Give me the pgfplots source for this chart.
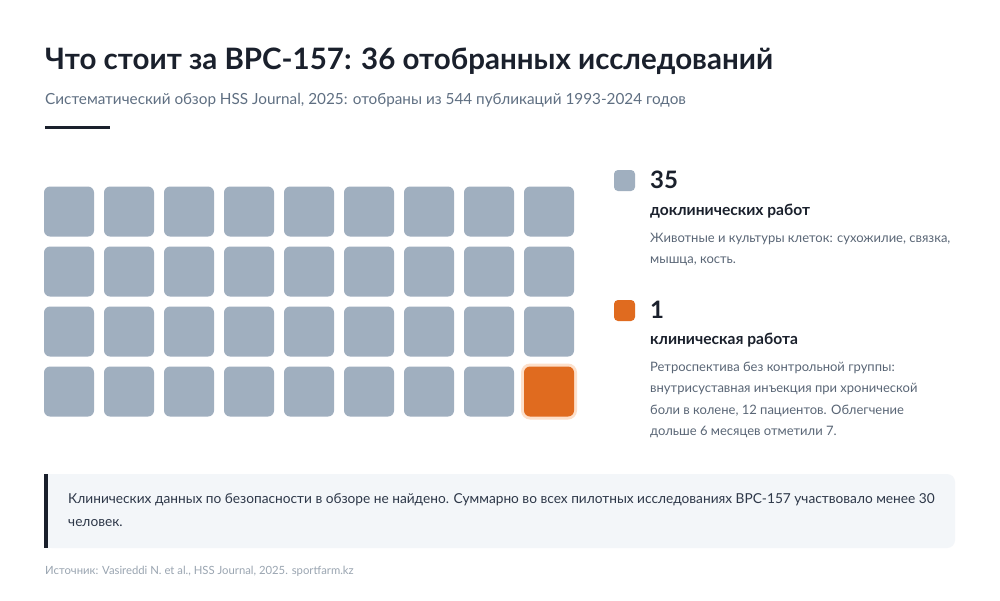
\documentclass[border=0pt]{standalone}
\usepackage{pgfplots}
\pgfplotsset{compat=1.18}
\usepackage{fontspec}
\setmainfont{Lato}

\definecolor{ink}{HTML}{1A202C}
\definecolor{subgrey}{HTML}{5F6F82}
\definecolor{descgrey}{HTML}{5A6676}
\definecolor{srcgrey}{HTML}{9AA5B1}
\definecolor{cellgrey}{HTML}{A0AFBF}
\definecolor{cellorange}{HTML}{E06B1F}
\definecolor{halo}{HTML}{FDE0CB}
\definecolor{notebg}{HTML}{F3F6F9}
\definecolor{notetext}{HTML}{2D3748}

% rounded square marks, sizes in pt (1pt = 1px of the reference)
\newcommand\roundsq[2]{% half size, radius
  \pgfpathmoveto{\pgfpoint{-#1+#2}{-#1}}%
  \pgfpathlineto{\pgfpoint{#1-#2}{-#1}}%
  \pgfpatharc{270}{360}{#2}%
  \pgfpathlineto{\pgfpoint{#1}{#1-#2}}%
  \pgfpatharc{0}{90}{#2}%
  \pgfpathlineto{\pgfpoint{-#1+#2}{#1}}%
  \pgfpatharc{90}{180}{#2}%
  \pgfpathlineto{\pgfpoint{-#1}{-#1+#2}}%
  \pgfpatharc{180}{270}{#2}%
  \pgfpathclose}
\pgfdeclareplotmark{cell}{\roundsq{25pt}{6pt}\pgfusepathqfill}
\pgfdeclareplotmark{cellhalo}{\roundsq{28pt}{9pt}\pgfusepathqfill}

\tikzset{txt/.style={anchor=base west, inner sep=0}}

\begin{document}
\begin{tikzpicture}[x=1pt,y=1pt]
  \fill[white] (0,0) rectangle (1000,-600);

  % title block
  \node[txt, text=ink, font=\fontsize{29.5}{34}\selectfont\bfseries] at (45,-69)
        {Что стоит за BPC-157: 36 отобранных исследований};
  \node[txt, text=subgrey, font=\fontsize{15.3}{18}\selectfont] at (45,-104)
        {Систематический обзор HSS Journal, 2025: отобраны из 544 публикаций 1993-2024 годов};
  \fill[ink] (45,-125.5) rectangle (110,-128.5);

  % waffle: 9 x 4 cells, row 0 at the bottom
  \begin{axis}[
      at={(39pt,-421.5pt)}, anchor=south west,
      scale only axis, hide axis, clip=false,
      x=60pt, y=60pt,
      xmin=-0.5, xmax=8.5, ymin=-0.5, ymax=3.5,
    ]
    \addplot[only marks, mark=cell, color=cellgrey] coordinates {
      (0,3) (1,3) (2,3) (3,3) (4,3) (5,3) (6,3) (7,3) (8,3)
      (0,2) (1,2) (2,2) (3,2) (4,2) (5,2) (6,2) (7,2) (8,2)
      (0,1) (1,1) (2,1) (3,1) (4,1) (5,1) (6,1) (7,1) (8,1)
      (0,0) (1,0) (2,0) (3,0) (4,0) (5,0) (6,0) (7,0)
    };
    \addplot[only marks, mark=cellhalo, color=halo] coordinates {(8,0)};
    \addplot[only marks, mark=cell, color=cellorange] coordinates {(8,0)};
  \end{axis}

  % legend
  \fill[cellgrey, rounded corners=4pt] (614,-170) rectangle (635,-191);
  \node[txt, text=ink, font=\fontsize{24}{28}\selectfont\bfseries] at (650,-188) {35};
  \node[txt, text=ink, font=\fontsize{15.6}{18}\selectfont\bfseries] at (650,-215) {доклинических работ};
  \begin{scope}[every node/.style={txt, text=descgrey, font=\fontsize{13}{16}\selectfont}]
    \node at (650,-242) {Животные и культуры клеток: сухожилие, связка,};
    \node at (650,-263.5) {мышца, кость.};
  \end{scope}

  \fill[cellorange, rounded corners=4pt] (614,-300) rectangle (635,-321);
  \node[txt, text=ink, font=\fontsize{24}{28}\selectfont\bfseries] at (650,-318) {1};
  \node[txt, text=ink, font=\fontsize{15.6}{18}\selectfont\bfseries] at (650,-344) {клиническая работа};
  \begin{scope}[every node/.style={txt, text=descgrey, font=\fontsize{13}{16}\selectfont}]
    \node at (650,-371) {Ретроспектива без контрольной группы:};
    \node at (650,-392.5) {внутрисуставная инъекция при хронической};
    \node at (650,-414) {боли в колене, 12 пациентов. Облегчение};
    \node at (650,-435.5) {дольше 6 месяцев отметили 7.};
  \end{scope}

  % note box
  \fill[notebg, rounded corners=8pt] (44,-474) rectangle (955,-548);
  \fill[notebg] (44,-474) rectangle (60,-548);
  \fill[ink] (44,-474) rectangle (47.5,-548);
  \begin{scope}[every node/.style={txt, text=notetext, font=\fontsize{13.7}{16}\selectfont}]
    \node at (68,-503) {Клинических данных по безопасности в обзоре не найдено. Суммарно во всех пилотных исследованиях BPC-157 участвовало менее 30};
    \node at (68,-526) {человек.};
  \end{scope}

  % source
  \node[txt, text=srcgrey, font=\fontsize{11.3}{13}\selectfont] at (45,-574)
        {Источник: Vasireddi N. et al., HSS Journal, 2025. sportfarm.kz};
\end{tikzpicture}
\end{document}
